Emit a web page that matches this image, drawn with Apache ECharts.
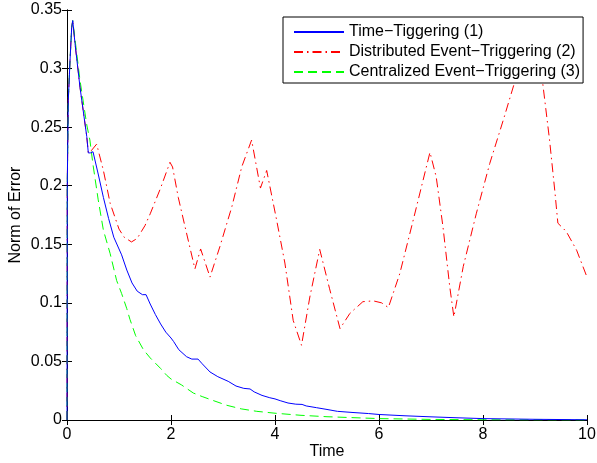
<!DOCTYPE html>
<html>
<head>
<meta charset="utf-8">
<script src="https://cdn.jsdelivr.net/npm/echarts@6/dist/echarts.min.js"></script>
<style>
  html, body { margin: 0; padding: 0; background: #fff; }
  #main { width: 597px; height: 463px; }
</style>
</head>
<body>
<div id="main"></div>
<script>
// values: [time, norm of error]
var timeTrig = [
    [0, 0], [0.005, 0.2], [0.025, 0.273], [0.058, 0.307], [0.09, 0.335], [0.11, 0.341],
    [0.154, 0.3215], [0.25, 0.284], [0.38, 0.242], [0.41, 0.228], [0.45, 0.228], [0.5, 0.229],
    [0.6, 0.21], [0.7, 0.19], [0.8, 0.172], [0.9, 0.156], [1.0, 0.146], [1.05, 0.141],
    [1.15, 0.128], [1.25, 0.117], [1.35, 0.11], [1.45, 0.107], [1.52, 0.107], [1.6, 0.099],
    [1.7, 0.09], [1.8, 0.082], [1.9, 0.075], [2.0, 0.07], [2.05, 0.067], [2.15, 0.06],
    [2.3, 0.054], [2.4, 0.052], [2.52, 0.052], [2.6, 0.048], [2.75, 0.041], [2.9, 0.037],
    [3.0, 0.035], [3.1, 0.033], [3.25, 0.029], [3.4, 0.027], [3.52, 0.0265], [3.6, 0.024],
    [3.75, 0.021], [3.9, 0.019], [4.0, 0.018], [4.1, 0.0165], [4.25, 0.0145], [4.4, 0.0135],
    [4.52, 0.0133], [4.6, 0.012], [4.8, 0.0105], [5.0, 0.009], [5.2, 0.0074], [5.5, 0.0064],
    [5.8, 0.0055], [6.0, 0.0047], [6.5, 0.0036], [7.0, 0.0027], [7.5, 0.0019], [8.0, 0.0012],
    [9.0, 0.0006], [10, 0.0002]
];
var distTrig = [
    [0, 0], [0.005, 0.2], [0.025, 0.273], [0.058, 0.307], [0.09, 0.335], [0.11, 0.341],
    [0.154, 0.3215], [0.25, 0.284], [0.38, 0.242], [0.41, 0.228], [0.45, 0.229], [0.57, 0.2355],
    [0.7, 0.213], [0.83, 0.185], [1.0, 0.163], [1.1, 0.156], [1.24, 0.152], [1.35, 0.155],
    [1.5, 0.166], [1.6, 0.176], [1.8, 0.198], [1.98, 0.22], [2.03, 0.216], [2.14, 0.19],
    [2.27, 0.165], [2.46, 0.129], [2.57, 0.146], [2.75, 0.122], [2.94, 0.148], [3.17, 0.182],
    [3.36, 0.216], [3.55, 0.239], [3.72, 0.198], [3.84, 0.213], [4.03, 0.171], [4.19, 0.134],
    [4.35, 0.085], [4.51, 0.0638], [4.67, 0.105], [4.86, 0.1456], [5.05, 0.112], [5.25, 0.078],
    [5.44, 0.091], [5.69, 0.101], [5.89, 0.1017], [6.05, 0.1], [6.18, 0.096], [6.4, 0.125],
    [6.66, 0.171], [6.98, 0.2285], [7.1, 0.2076], [7.23, 0.165], [7.36, 0.114], [7.44, 0.088],
    [7.62, 0.131], [7.87, 0.176], [8.13, 0.219], [8.39, 0.256], [8.64, 0.293], [9.0, 0.325],
    [9.15, 0.287], [9.28, 0.239], [9.38, 0.196], [9.44, 0.168], [9.6, 0.161], [9.8, 0.145],
    [10, 0.122]
];
var centTrig = [
    [0, 0], [0.005, 0.2], [0.025, 0.273], [0.058, 0.307], [0.09, 0.335], [0.11, 0.341],
    [0.154, 0.325], [0.25, 0.29], [0.38, 0.252], [0.44, 0.239], [0.5, 0.218], [0.6, 0.188],
    [0.7, 0.162], [0.83, 0.142], [0.955, 0.119], [1.05, 0.108], [1.15, 0.095], [1.21, 0.086],
    [1.32, 0.072], [1.47, 0.06], [1.6, 0.053], [1.8, 0.044], [1.92, 0.038], [2.0, 0.035],
    [2.2, 0.03], [2.43, 0.023], [2.6, 0.02], [2.8, 0.0168], [3.07, 0.0126], [3.35, 0.0095],
    [3.65, 0.0074], [4.0, 0.0058], [4.5, 0.004], [5.0, 0.0028], [6.0, 0.0012], [7.0, 0.0005],
    [8.0, 0.0002], [10, 0.0]
];
var legendNames = ['Time\u2212Tiggering (1)', 'Distributed Event\u2212Triggering (2)', 'Centralized Event\u2212Triggering (3)'];

var font = 'Liberation Sans, Arial, Helvetica, sans-serif';
var myChart = echarts.init(document.getElementById('main'));

var option = {
    backgroundColor: '#fff',
    animation: false,
    textStyle: {fontFamily: font},
    grid: {left: 67, right: 10, top: 10, bottom: 43, outerBoundsMode: 'none', containLabel: false},
    legend: {
        orient: 'vertical',
        left: 283,
        top: 17,
        padding: [6, 3, 2, 10],
        itemGap: 2,
        itemWidth: 50,
        itemHeight: 10,
        backgroundColor: '#fff',
        borderColor: '#000',
        borderWidth: 1,
        borderRadius: 0,
        itemStyle: {opacity: 0},
        textStyle: {fontFamily: font, fontSize: 16, color: '#000', lineHeight: 18},
        data: legendNames
    },
    xAxis: [
        {
            type: 'value', min: 0, max: 10, interval: 2,
            name: 'Time', nameLocation: 'middle', nameGap: 24, nameMoveOverlap: false,
            nameTextStyle: {fontFamily: font, fontSize: 16, color: '#000'},
            axisLine: {lineStyle: {color: '#000', width: 1}},
            axisTick: {inside: true, length: 5, lineStyle: {color: '#000'}},
            axisLabel: {margin: 7, fontFamily: font, fontSize: 16, color: '#000'},
            splitLine: {show: false}
        },
        {
            type: 'value', min: 0, max: 10, interval: 2, position: 'top',
            axisLine: {lineStyle: {color: '#000', width: 1}},
            axisTick: {inside: true, length: 5, lineStyle: {color: '#000'}},
            axisLabel: {show: false},
            splitLine: {show: false}
        }
    ],
    yAxis: [
        {
            type: 'value', min: 0, max: 0.35, interval: 0.05,
            name: 'Norm of Error', nameLocation: 'middle', nameGap: 43, nameMoveOverlap: false,
            nameTextStyle: {fontFamily: font, fontSize: 16, color: '#000'},
            axisLine: {show: true, lineStyle: {color: '#000', width: 1}},
            axisTick: {show: true, inside: true, length: 5, lineStyle: {color: '#000'}},
            axisLabel: {margin: 5, fontFamily: font, fontSize: 16, color: '#000'},
            splitLine: {show: false}
        },
        {
            type: 'value', min: 0, max: 0.35, interval: 0.05, position: 'right',
            axisLine: {show: true, lineStyle: {color: '#000', width: 1}},
            axisTick: {show: true, inside: true, length: 5, lineStyle: {color: '#000'}},
            axisLabel: {show: false},
            splitLine: {show: false}
        }
    ],
    series: [
        {
            name: legendNames[0], type: 'line', symbol: 'none',
            lineStyle: {color: '#0000ff', width: 1}, itemStyle: {color: '#0000ff'},
            data: timeTrig, z: 3
        },
        {
            name: legendNames[1], type: 'line', symbol: 'none',
            lineStyle: {color: '#ff0000', width: 1, type: [9, 4, 1.5, 4]}, itemStyle: {color: '#ff0000'},
            data: distTrig, z: 2
        },
        {
            name: legendNames[2], type: 'line', symbol: 'none',
            lineStyle: {color: '#00ff00', width: 1, type: [9, 5]}, itemStyle: {color: '#00ff00'},
            data: centTrig, z: 2
        }
    ]
};

myChart.setOption(option);
</script>
</body>
</html>
